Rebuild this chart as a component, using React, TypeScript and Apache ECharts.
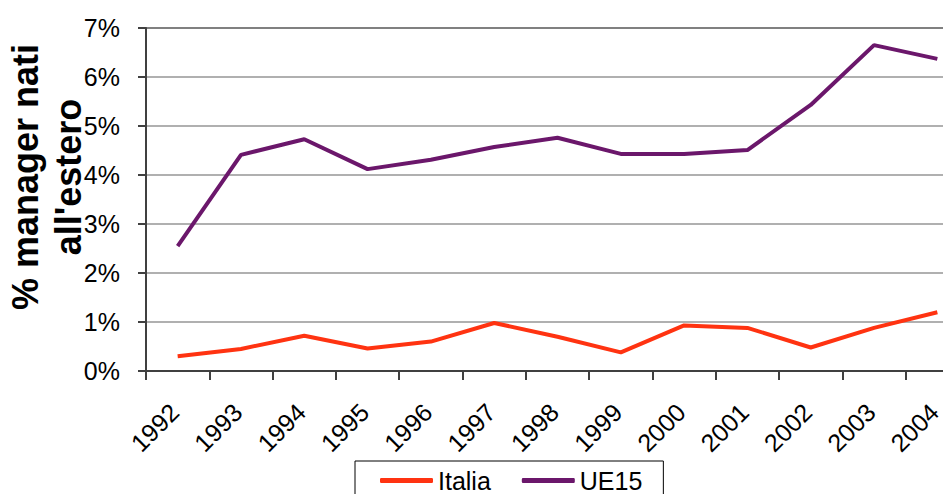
import React, { useEffect, useRef } from "react";
import * as echarts from "echarts";

const years = ["1992", "1993", "1994", "1995", "1996", "1997", "1998", "1999", "2000", "2001", "2002", "2003", "2004"];
const italia = [0.3, 0.45, 0.72, 0.46, 0.6, 0.98, 0.7, 0.38, 0.93, 0.88, 0.48, 0.88, 1.2];
const ue15 = [2.55, 4.41, 4.73, 4.12, 4.31, 4.57, 4.76, 4.43, 4.43, 4.51, 5.43, 6.65, 6.37];
const seriesNames = ["Italia", "UE15"];
const yTitle = "% manager nati\nall'estero";

export default function App() {
  const ref = useRef<HTMLDivElement>(null);
  useEffect(() => {
    if (!ref.current) return;
    const chart = echarts.init(ref.current, null, { renderer: "svg" });
    const font = "Liberation Sans, Arial, sans-serif";
    chart.setOption({
      animation: false,
      grid: { left: 146, top: 28, bottom: 123, right: 0, containLabel: false },
      xAxis: {
        type: "category",
        data: years,
        boundaryGap: true,
        axisLine: { lineStyle: { color: "#404040", width: 2 } },
        axisTick: { show: true, length: 9, lineStyle: { color: "#404040", width: 2 } },
        axisLabel: {
          rotate: 45,
          margin: 40,
          fontSize: 25,
          lineHeight: 9,
          fontFamily: font,
          color: "#000",
          verticalAlign: "bottom",
          interval: 0,
          hideOverlap: false,
        },
        splitLine: { show: false },
      },
      yAxis: {
        type: "value",
        min: 0,
        max: 7,
        interval: 1,
        axisLine: { show: true, lineStyle: { color: "#404040", width: 2 } },
        axisTick: { show: true, length: 8, lineStyle: { color: "#404040", width: 2 } },
        axisLabel: {
          formatter: (v: number) => v + "%",
          margin: 26,
          fontSize: 25,
          fontFamily: font,
          color: "#000",
        },
        splitLine: {
          show: true,
          lineStyle: {
            color: ["#b0b0b0", "#b0b0b0", "#b0b0b0", "#b0b0b0", "#b0b0b0", "#b0b0b0", "#b0b0b0", "#808080"],
            width: 2,
          },
        },
      },
      legend: {
        data: seriesNames,
        left: 355,
        top: 461,
        orient: "horizontal",
        icon: "roundRect",
        itemWidth: 53,
        itemHeight: 5,
        itemGap: 31,
        padding: [7, 21, 8, 25],
        borderColor: "#000",
        borderWidth: 1,
        textStyle: { fontSize: 25, lineHeight: 20, fontFamily: font, color: "#000" },
      },
      graphic: [
        {
          type: "text",
          x: 47,
          y: 177,
          rotation: Math.PI / 2,
          style: {
            text: yTitle,
            font: "bold 36px Liberation Sans, Arial, sans-serif",
            fill: "#000",
            textAlign: "center",
            textVerticalAlign: "middle",
            lineHeight: 43,
          },
        },
      ],
      series: [
        {
          name: seriesNames[0],
          type: "line",
          data: italia,
          symbol: "none",
          lineStyle: { color: "#FF3311", width: 4 },
          itemStyle: { color: "#FF3311" },
        },
        {
          name: seriesNames[1],
          type: "line",
          data: ue15,
          symbol: "none",
          lineStyle: { color: "#6B176B", width: 4 },
          itemStyle: { color: "#6B176B" },
        },
      ],
    });
    return () => chart.dispose();
  }, []);
  return (
    <div style={{ position: "absolute", left: 0, top: 0, width: 943, height: 494, overflow: "hidden" }}>
      <div ref={ref} style={{ width: 969, height: 494 }} />
    </div>
  );
}
